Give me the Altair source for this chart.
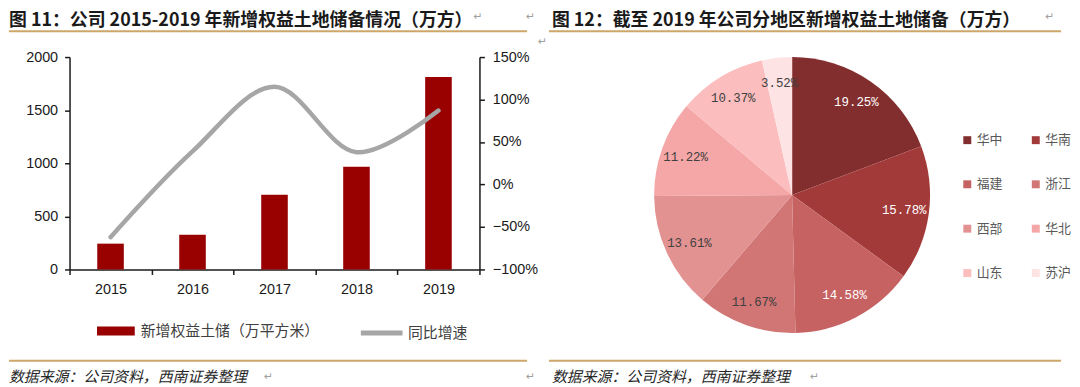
import altair as alt
import pandas as pd

# ---------------- data ----------------
years = ["2015", "2016", "2017", "2018", "2019"]
land_bank = [243, 327, 703, 967, 1813]          # 新增权益土储（万平方米）
growth_pct = [-62, 39, 115, 38, 87]             # 同比增速 (%)
bar_series = "新增权益土储（万平方米）"
line_series = "同比增速"
left_ticks = [0, 500, 1000, 1500, 2000]
right_ticks_pct = [-100, -50, 0, 50, 100, 150]

regions = ["华中", "华南", "福建", "浙江", "西部", "华北", "山东", "苏沪"]
shares = [19.25, 15.78, 14.58, 11.67, 13.61, 11.22, 10.37, 3.52]
region_colors = ["#832E2E", "#A33A3A", "#C66262", "#D27575", "#E39292",
                 "#F5A6A6", "#FBBDBD", "#FDE3E3"]
# legend is filled column by column: 4 rows x 2 columns, read row by row
legend_order = ["华中", "福建", "西部", "山东", "华南", "浙江", "华北", "苏沪"]

title_left = "图 11：公司 2015-2019 年新增权益土地储备情况（万方）"
title_right = "图 12：截至 2019 年公司分地区新增权益土地储备（万方）"
source_text = "数据来源：公司资料，西南证券整理"
return_mark = "↵"

# ---------------- styles ----------------
W, H = 413, 214
CJK = "Noto Sans CJK SC"
LAT = "Liberation Sans"
INK = "#1a1a1a"
GOLD = "#CDA66A"

bar_df = pd.DataFrame({"year": years, "value": land_bank, "series": bar_series})
line_df = pd.DataFrame({"year": years,
                        "growth": [g / 100 for g in growth_pct],
                        "series": line_series})
pie_df = pd.DataFrame({"region": regions, "share": shares,
                       "idx": list(range(len(regions))),
                       "label": [f"{s:.2f}%" for s in shares]})

x_enc = alt.X(
    "year:O", sort=years, title=None,
    scale=alt.Scale(paddingInner=0, paddingOuter=0),
    axis=alt.Axis(labelAngle=0, tickBand="extent", tickSize=5, labelPadding=8,
                  labelFont=LAT, labelFontSize=14.5, labelColor=INK,
                  domainColor=INK, tickColor=INK, domainWidth=1.5, tickWidth=1.5),
)

bars = alt.Chart(bar_df).mark_bar(width=alt.RelativeBandSize(0.324)).encode(
    x=x_enc,
    y=alt.Y("value:Q", title=None,
            scale=alt.Scale(domain=[0, 2000], nice=False),
            axis=alt.Axis(orient="left", values=left_ticks, format="d",
                          grid=False, tickSize=5, labelPadding=7, labelFont=LAT,
                          labelFontSize=14.5, labelColor=INK, domainColor=INK,
                          tickColor=INK, domainWidth=1.5, tickWidth=1.5)),
    fill=alt.Fill("series:N",
                  scale=alt.Scale(domain=[bar_series], range=["#990000"]),
                  legend=alt.Legend(title=None, orient="none", legendX=27.7,
                                    legendY=257, padding=0,
                                    symbolType="M-1,-0.237H1V0.237H-1Z",
                                    symbolSize=1444, symbolStrokeWidth=0,
                                    labelFont=CJK, labelFontSize=15,
                                    labelColor="#404040", labelOffset=6,
                                    labelLimit=400)),
)

line = alt.Chart(line_df).mark_line(
    interpolate="catmull-rom", strokeWidth=4.5, strokeCap="round"
).encode(
    x=x_enc,
    y=alt.Y("growth:Q", title=None,
            scale=alt.Scale(domain=[-1, 1.5], nice=False),
            axis=alt.Axis(orient="right", values=[v / 100 for v in right_ticks_pct],
                          format=".0%", grid=False, tickSize=5, labelPadding=8,
                          labelFont=LAT, labelFontSize=14.5, labelColor=INK,
                          domainColor=INK, tickColor=INK, domainWidth=1.5,
                          tickWidth=1.5)),
    stroke=alt.Stroke("series:N",
                      scale=alt.Scale(domain=[line_series], range=["#A6A6A6"]),
                      legend=alt.Legend(title=None, orient="none", legendX=291,
                                        legendY=254.5, padding=0,
                                        symbolType="stroke", symbolSize=1764,
                                        symbolStrokeWidth=5, labelFont=CJK,
                                        labelFontSize=15, labelColor="#404040",
                                        labelOffset=3, labelLimit=400)),
)

PIE_X, PIE_Y = 728, 139

arc = alt.Chart(pie_df).mark_arc(outerRadius=139).encode(
    theta=alt.Theta("share:Q", stack=True),
    order=alt.Order("idx:Q"),
    color=alt.Color("region:N", sort=regions,
                    scale=alt.Scale(domain=regions, range=region_colors),
                    legend=alt.Legend(title=None, orient="none", legendX=898,
                                      legendY=77, padding=0, columns=2,
                                      values=legend_order,
                                      symbolType="square", symbolSize=64,
                                      symbolStrokeWidth=0,
                                      labelFont=CJK, labelFontSize=13,
                                      labelColor="#595959", labelOffset=3,
                                      rowPadding=30.7, columnPadding=26)),
    x=alt.value(PIE_X),
    y=alt.value(PIE_Y),
)

pie_text = alt.Chart(pie_df).mark_text(
    radius=114, font="Liberation Mono", fontSize=12.5
).encode(
    theta=alt.Theta("share:Q", stack=True),
    order=alt.Order("idx:Q"),
    text="label:N",
    color=alt.condition("datum.idx < 3", alt.value("white"), alt.value("#404040")),
    x=alt.value(PIE_X),
    y=alt.value(PIE_Y),
)


def text_layer(s, x, y, size, font=CJK, weight="normal", style="normal",
               color=INK, baseline="middle"):
    return alt.Chart(pd.DataFrame({"t": [s]})).mark_text(
        align="left", baseline=baseline, font=font, fontSize=size,
        fontWeight=weight, fontStyle=style, color=color
    ).encode(x=alt.value(x), y=alt.value(y), text="t:N")


def rule_layer(x1, x2, y):
    return alt.Chart(pd.DataFrame({"a": [0]})).mark_rule(
        color=GOLD, strokeWidth=2
    ).encode(x=alt.value(x1), x2=alt.value(x2), y=alt.value(y))


decor = [
    text_layer(title_left, -61, -45, 18, weight="bold", baseline="top"),
    text_layer(title_right, 486, -45, 18, weight="bold", baseline="top"),
    rule_layer(-61, 461, -26),
    rule_layer(483, 999, -26),
    rule_layer(-61, 461, 306),
    rule_layer(483, 999, 306),
    text_layer(source_text, -61, 322, 15, style="italic", color="#262626"),
    text_layer(source_text, 486, 322, 15, style="italic", color="#262626"),
    text_layer(return_mark, 407, -40, 11, font="DejaVu Sans", color="#a0a0a0"),
    text_layer(return_mark, 460, -40, 11, font="DejaVu Sans", color="#a0a0a0"),
    text_layer(return_mark, 983, -40, 11, font="DejaVu Sans", color="#a0a0a0"),
    text_layer(return_mark, 472, -15, 11, font="DejaVu Sans", color="#a0a0a0"),
    text_layer(return_mark, 196, 322, 11, font="DejaVu Sans", color="#a0a0a0"),
    text_layer(return_mark, 460, 322, 11, font="DejaVu Sans", color="#a0a0a0"),
    text_layer(return_mark, 746, 322, 11, font="DejaVu Sans", color="#a0a0a0"),
]

chart = alt.layer(bars, line, arc, pie_text, *decor).resolve_scale(
    y="independent"
).properties(
    width=W, height=H,
    padding={"top": 2, "left": 0, "right": 0, "bottom": 0},
).configure_view(stroke=None)

chart.save("out.html", embed_options={"renderer": "svg", "actions": False})
